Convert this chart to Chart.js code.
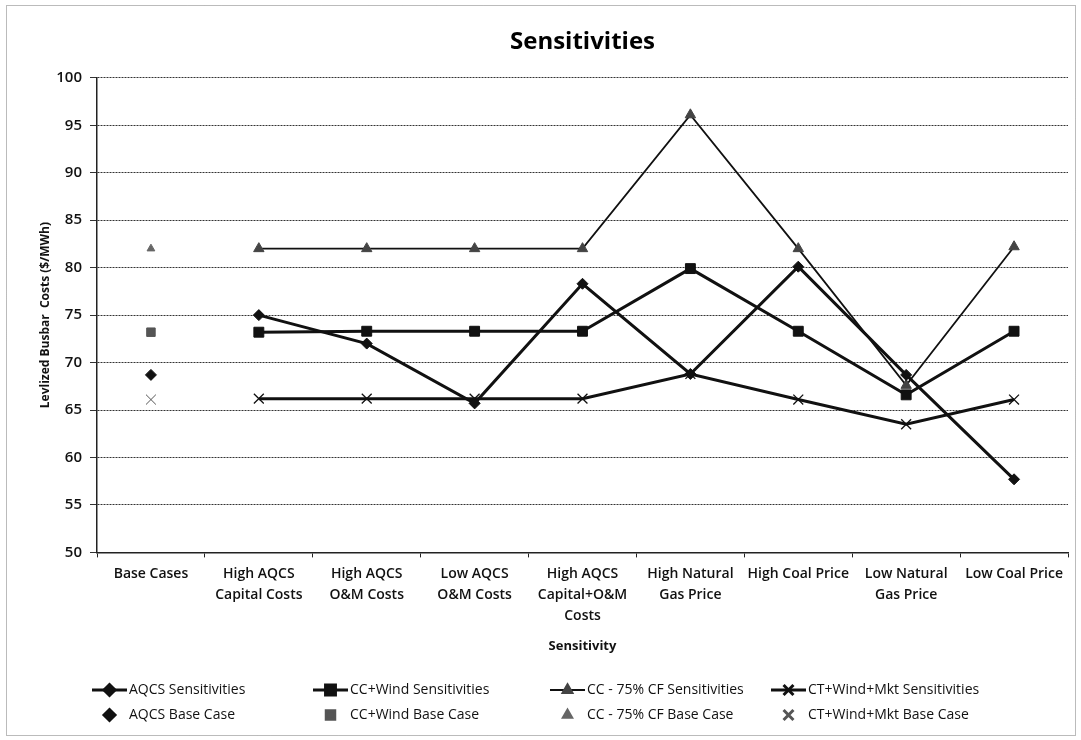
<!DOCTYPE html>
<html>
<head>
<meta charset="utf-8">
<script src="https://cdn.jsdelivr.net/npm/chart.js@4.4.1/dist/chart.umd.min.js"></script>
<style>
  html, body { margin: 0; padding: 0; background: #fff; }
  #wrap { width: 1081px; height: 740px; position: relative; }
</style>
</head>
<body>
<div id="wrap"><canvas id="myChart"></canvas></div>
<script>
// chart data
const categories = [
    ['Base Cases'],
    ['High AQCS', 'Capital Costs'],
    ['High AQCS', 'O&M Costs'],
    ['Low AQCS', 'O&M Costs'],
    ['High AQCS', 'Capital+O&M', 'Costs'],
    ['High Natural', 'Gas Price'],
    ['High Coal Price'],
    ['Low Natural', 'Gas Price'],
    ['Low Coal Price']
];
const yTicks = [50, 55, 60, 65, 70, 75, 80, 85, 90, 95, 100];

const aqcsSens   = [null, 75.0, 72.0, 65.7, 78.3, 68.8, 80.1, 68.7, 57.7];
const ccWindSens = [null, 73.2, 73.3, 73.3, 73.3, 79.9, 73.3, 66.6, 73.3];
const cc75Sens   = [null, 82.0, 82.0, 82.0, 82.0, 96.1, 82.0, 67.6, 82.2];
const ctWindSens = [null, 66.2, 66.2, 66.2, 66.2, 68.8, 66.1, 63.5, 66.1];

const aqcsBase   = [68.7, null, null, null, null, null, null, null, null];
const ccWindBase = [73.2, null, null, null, null, null, null, null, null];
const cc75Base   = [82.0, null, null, null, null, null, null, null, null];
const ctWindBase = [66.1, null, null, null, null, null, null, null, null];

const FONT = "'Open Sans', 'Noto Sans', sans-serif";
Chart.defaults.font.family = FONT;
Chart.defaults.color = '#111';

// legend drawn in two rows of four, like the original
const legendPlugin = {
    id: 'sheetLegend',
    afterDraw(chart) {
        const ctx = chart.ctx;
        const cols = [92, 313, 550, 771];
        const rows = [690, 715];
        ctx.save();
        chart.data.datasets.forEach((ds, i) => {
            const row = i < 4 ? 0 : 1;
            const x0 = cols[i % 4];
            const y = rows[row];
            if (row === 0) {
                ctx.strokeStyle = ds.borderColor;
                ctx.lineWidth = ds.borderWidth;
                ctx.beginPath();
                ctx.moveTo(x0, y);
                ctx.lineTo(x0 + 35, y);
                ctx.stroke();
            }
            ctx.fillStyle = ds.pointBackgroundColor;
            ctx.strokeStyle = ds.pointBorderColor;
            Chart.helpers.drawPoint(ctx, {
                pointStyle: ds.pointStyle,
                radius: ds.pointRadius,
                rotation: 0,
                borderWidth: ds.pointBorderWidth
            }, x0 + 17.5, y);
            ctx.fillStyle = '#111';
            ctx.font = '14px ' + FONT;
            ctx.textBaseline = 'middle';
            ctx.fillText(ds.label, x0 + 37, y);
        });
        // dotted frame around the whole chart
        ctx.strokeStyle = '#777';
        ctx.lineWidth = 1;
        ctx.setLineDash([1, 1]);
        ctx.strokeRect(6.5, 5.5, 1069, 730);
        ctx.restore();
    }
};

function lineSet(label, data, style, radius, width, fill, pbw) {
    return {
        label: label,
        data: data,
        borderColor: '#111',
        borderWidth: width,
        pointStyle: style,
        pointRadius: radius,
        pointHoverRadius: radius,
        pointBackgroundColor: fill,
        pointBorderColor: fill,
        pointBorderWidth: pbw,
        tension: 0,
        fill: false
    };
}

function baseSet(label, data, style, radius, color, bw) {
    return {
        label: label,
        data: data,
        showLine: false,
        borderColor: color,
        pointStyle: style,
        pointRadius: radius,
        pointHoverRadius: radius,
        pointBackgroundColor: color,
        pointBorderColor: color,
        pointBorderWidth: bw
    };
}

const ctx = document.getElementById('myChart');
new Chart(ctx, {
    type: 'line',
    data: {
        labels: categories,
        datasets: [
            lineSet('AQCS Sensitivities', aqcsSens, 'rectRot', 5.5, 3, '#111', 1),
            lineSet('CC+Wind Sensitivities', ccWindSens, 'rect', 7, 3, '#111', 1),
            lineSet('CC - 75% CF Sensitivities', cc75Sens, 'triangle', 6, 1.8, '#444', 1),
            lineSet('CT+Wind+Mkt Sensitivities', ctWindSens, 'crossRot', 7, 3, '#111', 1.3),
            baseSet('AQCS Base Case', aqcsBase, 'rectRot', 5.5, '#111', 1),
            baseSet('CC+Wind Base Case', ccWindBase, 'rect', 6, '#555', 1),
            baseSet('CC - 75% CF Base Case', cc75Base, 'triangle', 4.5, '#666', 1),
            baseSet('CT+Wind+Mkt Base Case', ctWindBase, 'crossRot', 7, '#555', 1)
        ]
    },
    options: {
        responsive: true,
        maintainAspectRatio: false,
        animation: false,
        layout: {
            padding: { left: 10, right: 13, top: 0, bottom: 86 }
        },
        plugins: {
            legend: { display: false },
            tooltip: { enabled: false },
            title: {
                display: true,
                fullSize: false,
                text: 'Sensitivities',
                color: '#000',
                font: { size: 24, weight: 'bold' },
                padding: { top: 28, bottom: 21 }
            }
        },
        scales: {
            x: {
                offset: true,
                grid: {
                    offset: true,
                    drawOnChartArea: false,
                    tickLength: 5,
                    color: '#222'
                },
                border: { color: '#222', width: 1.5 },
                ticks: {
                    autoSkip: false,
                    maxRotation: 0,
                    padding: 6,
                    color: '#111',
                    font: { size: 14, weight: '600', lineHeight: 1.5 }
                },
                title: {
                    display: true,
                    text: 'Sensitivity',
                    color: '#111',
                    font: { size: 13, weight: 'bold' },
                    padding: { top: 6, bottom: 0 }
                }
            },
            y: {
                min: yTicks[0],
                max: yTicks[yTicks.length - 1],
                afterBuildTicks: (scale) => {
                    scale.ticks = yTicks.map(v => ({ value: v }));
                },
                afterFit: (scale) => {
                    scale.width = 87;
                },
                grid: { color: '#333', tickLength: 7 },
                border: { color: '#222', width: 1.5, dash: [2, 1] },
                ticks: {
                    padding: 8,
                    color: '#111',
                    font: { size: 15, weight: '600' }
                },
                title: {
                    display: true,
                    text: 'Levlized Busbar  Costs ($/MWh)',
                    color: '#111',
                    font: { size: 12, weight: 'bold' },
                    padding: { top: 28, bottom: 0 }
                }
            }
        }
    },
    plugins: [legendPlugin]
});
</script>
</body>
</html>
